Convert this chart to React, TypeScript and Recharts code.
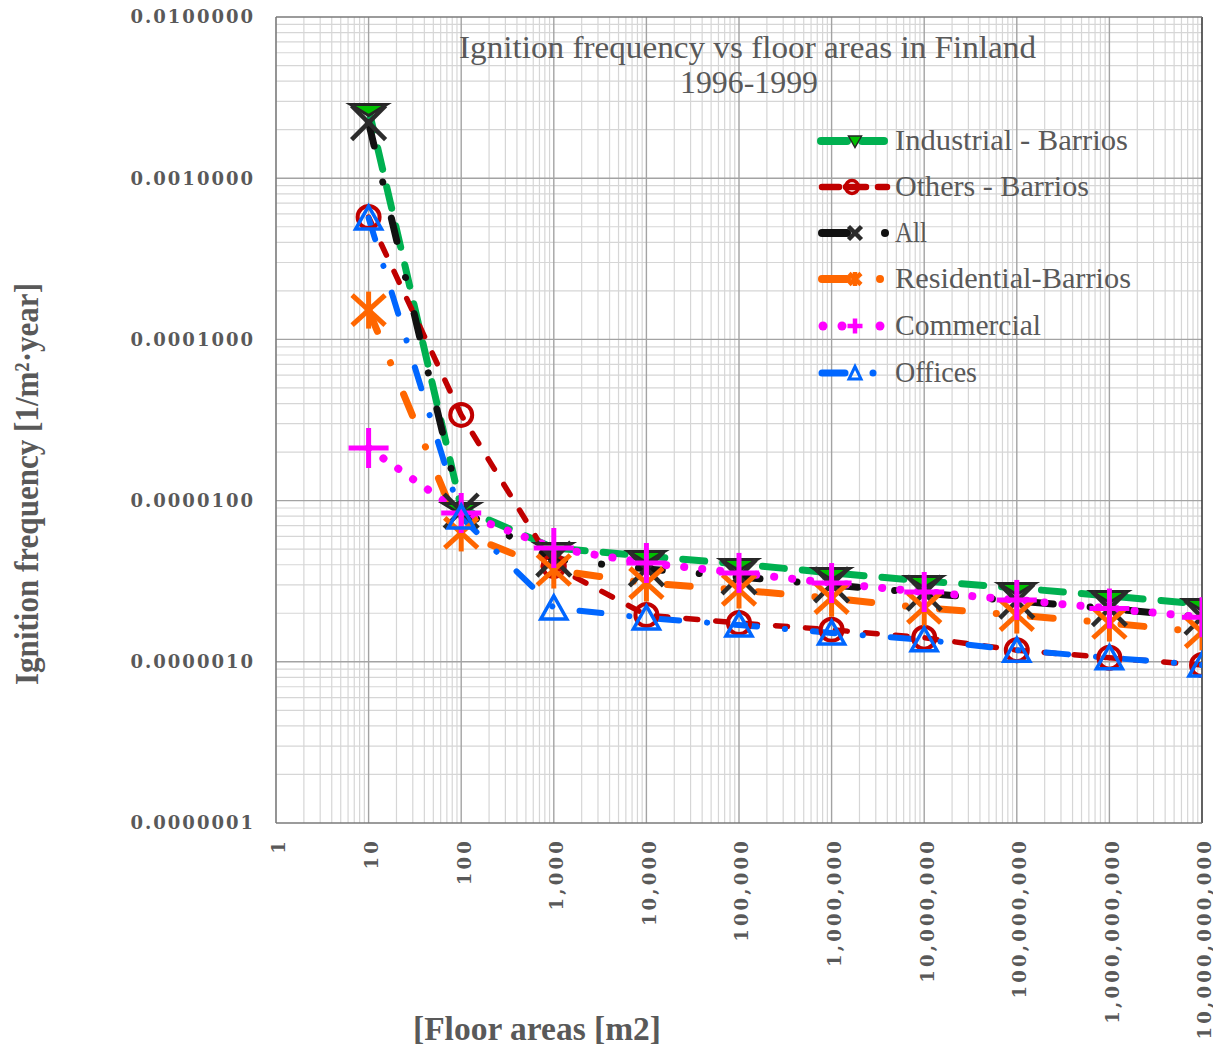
import React from 'react';
import { LineChart, Line, XAxis, YAxis, ReferenceLine, Legend } from 'recharts';

// Floor area classes [m2] and ignition frequencies [1/m2·year]
const floorAreas = [10, 100, 1000, 10000, 1e5, 1e6, 1e7, 1e8, 1e9, 1e10];
const industrial = [2.69e-3, 9.0e-6, 5.08e-6, 4.53e-6, 4.04e-6, 3.56e-6, 3.17e-6, 2.87e-6, 2.56e-6, 2.28e-6];
const others = [5.74e-4, 3.4e-5, 3.93e-6, 1.95e-6, 1.74e-6, 1.58e-6, 1.41e-6, 1.18e-6, 1.06e-6, 9.55e-7];
const allBuildings = [2.21e-3, 8.62e-6, 4.34e-6, 3.77e-6, 3.36e-6, 3.0e-6, 2.67e-6, 2.38e-6, 2.14e-6, 1.89e-6];
const residential = [1.52e-4, 6.3e-6, 3.71e-6, 3.08e-6, 2.79e-6, 2.48e-6, 2.16e-6, 1.95e-6, 1.74e-6, 1.53e-6];
const commercial = [2.12e-5, 8.38e-6, 5.08e-6, 4.1e-6, 3.56e-6, 3.08e-6, 2.71e-6, 2.42e-6, 2.14e-6, 1.89e-6];
const offices = [5.66e-4, 7.91e-6, 2.16e-6, 1.87e-6, 1.69e-6, 1.51e-6, 1.37e-6, 1.18e-6, 1.06e-6, 9.55e-7];

const xTicks = [1, 10, 100, 1000, 1e4, 1e5, 1e6, 1e7, 1e8, 1e9, 1e10];
const yTicks = [1e-7, 1e-6, 1e-5, 1e-4, 1e-3, 1e-2];
const minorSteps = [2, 3, 4, 5, 6, 7, 8, 9];

const TEXT = '#595959';
const SERIF = "'Liberation Serif', 'Times New Roman', serif";
const TICK_FONT = "'DejaVu Serif', Georgia, serif";

const data = floorAreas.map((area, i) => ({
  area,
  industrial: industrial[i],
  others: others[i],
  all: allBuildings[i],
  residential: residential[i],
  commercial: commercial[i],
  offices: offices[i],
}));

const xMinor = xTicks.slice(0, -1).flatMap((d) => minorSteps.map((m) => d * m));
const yMinor = yTicks.slice(0, -1).flatMap((d) => minorSteps.map((m) => d * m));

type Kind = 'downTriangle' | 'circle' | 'cross' | 'asterisk' | 'plus' | 'triangle';

interface MarkerProps {
  kind: Kind;
  cx: number;
  cy: number;
  small?: boolean;
}

function Marker({ kind, cx, cy, small }: MarkerProps) {
  const t = (pts: number[][]) => pts.map(([x, y]) => `${cx + x},${cy + y}`).join(' ');
  switch (kind) {
    case 'downTriangle': {
      const w = small ? 6.5 : 18;
      const top = small ? -5 : -4.5;
      const bottom = 6.5;
      return (
        <polygon
          points={t([[-w, top], [w, top], [0, bottom]])}
          fill="#00c000"
          stroke="#262626"
          strokeWidth={small ? 1.5 : 3}
          strokeLinejoin="miter"
        />
      );
    }
    case 'circle':
      return (
        <circle cx={cx} cy={cy} r={small ? 6.5 : 11} fill="none" stroke="#c00000" strokeWidth={small ? 3.5 : 4} />
      );
    case 'cross': {
      const h = small ? 6.5 : 17;
      return (
        <g stroke="#2b2b2b" strokeWidth={4.5}>
          <line x1={cx - h} y1={cy - h} x2={cx + h} y2={cy + h} />
          <line x1={cx - h} y1={cy + h} x2={cx + h} y2={cy - h} />
        </g>
      );
    }
    case 'asterisk': {
      const hx = small ? 6 : 16.5;
      const hy = small ? 5.5 : 15;
      const v = small ? 7 : 18.5;
      return (
        <g stroke="#ff6600" strokeWidth={small ? 4.5 : 5}>
          <line x1={cx} y1={cy - v} x2={cx} y2={cy + v} />
          <line x1={cx - hx} y1={cy - hy} x2={cx + hx} y2={cy + hy} />
          <line x1={cx - hx} y1={cy + hy} x2={cx + hx} y2={cy - hy} />
        </g>
      );
    }
    case 'plus': {
      const h = small ? 7.5 : 20;
      return (
        <g stroke="#ff00ff" strokeWidth={small ? 4.5 : 5}>
          <line x1={cx - h} y1={cy} x2={cx + h} y2={cy} />
          <line x1={cx} y1={cy - h} x2={cx} y2={cy + h} />
        </g>
      );
    }
    case 'triangle': {
      const w = small ? 6 : 13;
      const top = small ? -6.5 : -12;
      const bottom = small ? 6 : 11;
      return (
        <polygon
          points={t([[0, top], [w, bottom], [-w, bottom]])}
          fill="none"
          stroke="#0066ff"
          strokeWidth={small ? 3 : 3.5}
          strokeLinejoin="miter"
        />
      );
    }
    default:
      return null;
  }
}

interface SeriesDef {
  key: string;
  name: string;
  color: string;
  width: number;
  dash: string;
  marker: Kind;
  legendSegs: number[][];
  legendDots: number[];
  legendMarkerX: number;
}

const SERIES: SeriesDef[] = [
  {
    key: 'industrial', name: 'Industrial - Barrios', color: '#00b050', width: 7, dash: '22 18',
    marker: 'downTriangle', legendSegs: [[11, 37], [52, 74]], legendDots: [], legendMarkerX: 45,
  },
  {
    key: 'others', name: 'Others - Barrios', color: '#c00000', width: 5.5, dash: '12 18',
    marker: 'circle', legendSegs: [[12, 29], [36, 56], [68, 77]], legendDots: [], legendMarkerX: 42,
  },
  {
    key: 'all', name: 'All', color: '#111111', width: 7, dash: '24 37 0.1 37',
    marker: 'cross', legendSegs: [[12, 37]], legendDots: [75], legendMarkerX: 45,
  },
  {
    key: 'residential', name: 'Residential-Barrios', color: '#ff6600', width: 7, dash: '23 34 0.1 34',
    marker: 'asterisk', legendSegs: [[12, 37]], legendDots: [70], legendMarkerX: 45,
  },
  {
    key: 'commercial', name: 'Commercial', color: '#ff00ff', width: 8, dash: '0.1 18',
    marker: 'plus', legendSegs: [], legendDots: [13, 32, 70], legendMarkerX: 45,
  },
  {
    key: 'offices', name: 'Offices', color: '#0066ff', width: 6, dash: '22 28 0.1 28',
    marker: 'triangle', legendSegs: [[12, 35]], legendDots: [63], legendMarkerX: 45,
  },
];

const legendTextWidths: Record<string, number> = {
  industrial: 233,
  others: 194,
  all: 32,
  residential: 236,
  commercial: 146,
  offices: 82,
};

const makeDot = (kind: Kind) => (props: any) => {
  const { cx, cy, index } = props;
  if (cx == null || cy == null) return <g key={`${kind}-${index}`} />;
  return (
    <g key={`${kind}-${index}`}>
      <Marker kind={kind} cx={cx} cy={cy} />
    </g>
  );
};

const XTick = (props: any) => {
  const { x, y, payload } = props;
  const label = Number(payload.value).toLocaleString('en-US');
  const px = x + 3;
  return (
    <text
      x={px}
      y={y}
      dy="0.36em"
      transform={`rotate(-90, ${px}, ${y})`}
      textAnchor="end"
      fill={TEXT}
      fontFamily={TICK_FONT}
      fontWeight="bold"
      fontSize={18}
      letterSpacing={3.2}
    >
      {label}
    </text>
  );
};

const YTick = (props: any) => {
  const { x, y, payload } = props;
  return (
    <text
      x={x}
      y={y}
      dy="0.36em"
      textAnchor="end"
      fill={TEXT}
      fontFamily={TICK_FONT}
      fontWeight="bold"
      fontSize={18}
      letterSpacing={2}
    >
      {Number(payload.value).toFixed(7)}
    </text>
  );
};

const LegendContent = () => {
  const rowY = [31, 77, 123, 169, 216, 263];
  return (
    <svg width={340} height={290} style={{ display: 'block', overflow: 'visible' }}>
      {SERIES.map((s, i) => {
        const y = rowY[i];
        return (
          <g key={s.key}>
            {s.legendSegs.map(([a, b], j) => (
              <line
                key={`seg-${j}`}
                x1={a}
                y1={y}
                x2={b}
                y2={y}
                stroke={s.color}
                strokeWidth={s.width + 1}
                strokeLinecap="round"
              />
            ))}
            {s.legendDots.map((dx, j) => (
              <circle key={`dot-${j}`} cx={dx} cy={y} r={(s.width + 1) / 2} fill={s.color} />
            ))}
            <Marker kind={s.marker} cx={s.legendMarkerX} cy={y} small />
            <text
              x={85}
              y={y + 8.5}
              fill={TEXT}
              fontFamily={SERIF}
              fontSize={30}
              textLength={legendTextWidths[s.key]}
              lengthAdjust="spacingAndGlyphs"
            >
              {s.name}
            </text>
          </g>
        );
      })}
    </svg>
  );
};

export default function App() {
  const W = 1213;
  const H = 1047;
  return (
    <div style={{ position: 'relative', width: W, height: H, marginTop: -8 }}>
      <LineChart width={W} height={H} data={data} margin={{ top: 17, right: 19, bottom: 0, left: 0 }}>
        <XAxis
          dataKey="area"
          type="number"
          scale="log"
          domain={[1, 1e10]}
          allowDataOverflow
          ticks={xTicks}
          interval={0}
          height={224}
          tickSize={0}
          tickMargin={15}
          axisLine={false}
          tickLine={false}
          tick={XTick}
        />
        <YAxis
          type="number"
          scale="log"
          domain={[1e-7, 1e-2]}
          allowDataOverflow
          ticks={yTicks}
          interval={0}
          width={268}
          tickSize={0}
          tickMargin={21}
          axisLine={false}
          tickLine={false}
          tick={YTick}
        />
        {xMinor.map((v) => (
          <ReferenceLine key={`xm-${v}`} x={v} stroke="#d6d6d6" strokeWidth={1.2} />
        ))}
        {yMinor.map((v) => (
          <ReferenceLine key={`ym-${v}`} y={v} stroke="#d6d6d6" strokeWidth={1.2} />
        ))}
        {xTicks.slice(1, -1).map((v) => (
          <ReferenceLine key={`xM-${v}`} x={v} stroke="#a3a3a3" strokeWidth={1.4} />
        ))}
        {yTicks.slice(1, -1).map((v) => (
          <ReferenceLine key={`yM-${v}`} y={v} stroke="#a3a3a3" strokeWidth={1.4} />
        ))}
        <ReferenceLine x={1} stroke="#7a7a7a" strokeWidth={1.6} />
        <ReferenceLine x={1e10} stroke="#3a3a3a" strokeWidth={1.6} />
        <ReferenceLine y={1e-2} stroke="#7a7a7a" strokeWidth={1.6} />
        <ReferenceLine y={1e-7} stroke="#7a7a7a" strokeWidth={1.6} />
        {SERIES.map((s) => (
          <Line
            key={s.key}
            dataKey={s.key}
            name={s.name}
            type="linear"
            stroke={s.color}
            strokeWidth={s.width}
            strokeDasharray={s.dash}
            strokeLinecap="round"
            dot={makeDot(s.marker)}
            activeDot={false}
            isAnimationActive={false}
          />
        ))}
        <Legend
          layout="horizontal"
          align="center"
          verticalAlign="middle"
          content={LegendContent}
          wrapperStyle={{ position: 'absolute', left: 802, top: 110, width: 340, height: 290 }}
        />
      </LineChart>
      <svg
        width={W}
        height={H}
        style={{ position: 'absolute', left: 0, top: 0, pointerEvents: 'none' }}
      >
        <g fill={TEXT} fontFamily={SERIF}>
          <text x={739.5} y={58} textAnchor="middle" fontSize={31} textLength={577} lengthAdjust="spacingAndGlyphs">
            Ignition frequency vs floor areas in Finland
          </text>
          <text x={741} y={93} textAnchor="middle" fontSize={31} textLength={138} lengthAdjust="spacingAndGlyphs">
            1996-1999
          </text>
          <text
            x={30}
            y={484}
            transform="rotate(-90, 30, 484)"
            textAnchor="middle"
            fontSize={34}
            fontWeight="bold"
            textLength={402}
            lengthAdjust="spacingAndGlyphs"
          >
            Ignition frequency [1/m²·year]
          </text>
          <text
            x={529}
            y={1040}
            textAnchor="middle"
            fontSize={33}
            fontWeight="bold"
            textLength={248}
            lengthAdjust="spacingAndGlyphs"
          >
            [Floor areas [m2]
          </text>
        </g>
      </svg>
    </div>
  );
}
